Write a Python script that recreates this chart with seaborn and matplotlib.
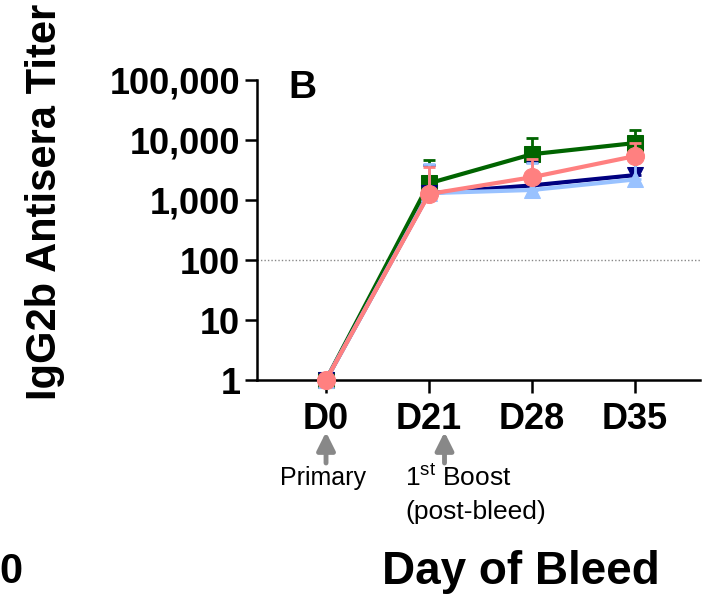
import numpy as np
import pandas as pd
import matplotlib
matplotlib.use("Agg")
import matplotlib.pyplot as plt
import seaborn as sns

# Bleed days and group titers (means with upper SD)
days = ["D0", "D21", "D28", "D35"]
groups = ["Group 1", "Group 2", "Group 3", "Group 4"]
mean_g1 = [1, 1900, 5800, 8900]
upper_g1 = [1, 4600, 11000, 14700]
mean_g2 = [1, 1300, 1750, 2600]
upper_g2 = [1, 3800, 4300, 6200]
mean_g3 = [1, 1300, 1470, 2200]
upper_g3 = [1, 4000, 4100, 5800]
mean_g4 = [1, 1260, 2400, 5400]
upper_g4 = [1, 3500, 4800, 8900]

colors = ["#006400", "#000080", "#99C2FF", "#FF8080"]
markers = ["s", "v", "^", "o"]
msizes = [12, 11, 12, 13]

y_ticks = [1, 10, 100, 1000, 10000, 100000]
y_ticklabels = ["1", "10", "100", "1,000", "10,000", "100,000"]

sns.set_theme(style="ticks")
plt.rcParams["font.family"] = ["Liberation Sans", "DejaVu Sans"]
plt.rcParams["text.color"] = "black"
plt.rcParams["xtick.color"] = "black"
plt.rcParams["ytick.color"] = "black"

fig = plt.figure(figsize=(7.07, 6.03), dpi=100)
ax = fig.add_axes([257 / 707, 1 - 380 / 603, (700 - 257) / 707, 300 / 603])

x = np.arange(len(days))
means = [mean_g1, mean_g2, mean_g3, mean_g4]
uppers = [upper_g1, upper_g2, upper_g3, upper_g4]

# Threshold line
ax.axhline(100, color="#888888", lw=1.0, ls=(0, (1, 1.5)), zorder=1)

for i, (g, m, u) in enumerate(zip(groups, means, uppers)):
    m = np.array(m, dtype=float)
    u = np.array(u, dtype=float)
    ax.errorbar(x, m, yerr=[np.zeros_like(m), u - m], fmt="none",
                ecolor=colors[i], elinewidth=2, capsize=4.5, capthick=2,
                zorder=2 + i * 2)
    df = pd.DataFrame({"day": x, "titer": m})
    sns.lineplot(data=df, x="day", y="titer", ax=ax, color=colors[i],
                 lw=3, marker=markers[i], markersize=msizes[i],
                 markeredgecolor=colors[i], zorder=3 + i * 2, clip_on=False)

ax.set_yscale("log")
ax.set_ylim(1, 1e5)
ax.set_xlim(-0.67, 3.63)
ax.set_yticks(y_ticks)
ax.set_yticklabels(y_ticklabels)
ax.minorticks_off()
ax.set_xticks(x)
ax.set_xticklabels(days)
ax.set_xlabel("")
ax.set_ylabel("")

for lab in ax.get_xticklabels() + ax.get_yticklabels():
    lab.set_fontweight("bold")
    lab.set_fontsize(26)
ax.tick_params(axis="both", direction="out", length=9, width=1.8,
               color="black", pad=3)
ax.tick_params(axis="x", pad=7)
for side in ["top", "right"]:
    ax.spines[side].set_visible(False)
for side in ["left", "bottom"]:
    ax.spines[side].set_linewidth(1.8)
    ax.spines[side].set_color("black")

# Panel letter
fig.text(302 / 707, 1 - 88 / 603, "B", fontsize=28, fontweight="bold",
         ha="center", va="center")

# Axis titles
fig.text(45 / 707, 1 - 202 / 603, "IgG2b Antisera Titer", fontsize=30,
         fontweight="bold", rotation=90, ha="center", va="center")
fig.text(521 / 707, 1 - 572 / 603, "Day of Bleed", fontsize=33,
         fontweight="bold", ha="center", va="center")
fig.text(11 / 707, 1 - 572 / 603, "0", fontsize=30,
         fontweight="bold", ha="center", va="center")

# Immunization arrows
for xa in [0, 1.15]:
    ax.annotate("", xy=(xa, 1 - 432 / 603), xytext=(xa, 1 - 463 / 603),
                xycoords=("data", "figure fraction"),
                textcoords=("data", "figure fraction"),
                arrowprops=dict(arrowstyle="-|>,head_width=0.45,head_length=0.9",
                                color="#888888", lw=3.5, shrinkA=0, shrinkB=0),
                annotation_clip=False)
fig.text(323 / 707, 1 - 478 / 603, "Primary", fontsize=18, ha="center",
         va="center")
fig.text(405 / 707, 1 - 478 / 603, r"1$^{\mathregular{st}}$ Boost", fontsize=19,
         ha="left", va="center")
fig.text(405 / 707, 1 - 512 / 603, "(post-bleed)", fontsize=19, ha="left",
         va="center")

fig.savefig("out.png", dpi=100)
